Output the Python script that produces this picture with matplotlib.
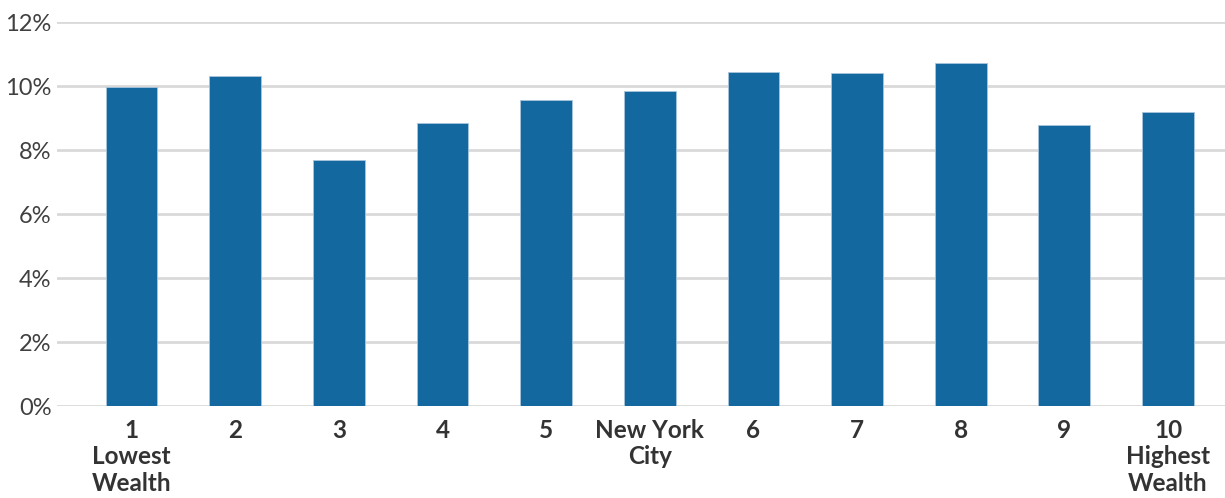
import matplotlib
matplotlib.use("Agg")
import matplotlib.pyplot as plt
from matplotlib.ticker import FuncFormatter

plt.rcParams['font.family'] = ['Lato', 'DejaVu Sans']

# data
categories = ['1\nLowest\nWealth', '2', '3', '4', '5', 'New York\nCity',
              '6', '7', '8', '9', '10\nHighest\nWealth']
values = [9.97, 10.30, 7.69, 8.84, 9.56, 9.84, 10.43, 10.41, 10.72, 8.78, 9.20]
yticks = [0, 2, 4, 6, 8, 10, 12]

BAR_COLOR = '#1468a0'
GRID_COLOR = '#d9d9d9'

fig = plt.figure(figsize=(12.25, 4.98), dpi=100)
ax = fig.add_axes([0.0465, 0.1847, 0.9535, 0.7711])

x = list(range(len(categories)))
ax.bar(x, values, width=0.5, color=BAR_COLOR, edgecolor='#a9c6dc',
       linewidth=0.6, zorder=3)

ax.set_ylim(0, 12)
ax.set_xlim(-0.72, 10.55)
ax.set_yticks(yticks)
ax.yaxis.set_major_formatter(FuncFormatter(lambda v, p: f'{v:.0f}%'))
ax.grid(axis='y', color=GRID_COLOR, linewidth=2, zorder=0)
ax.set_axisbelow(True)

ax.set_xticks(x)
ax.set_xticklabels(categories, fontweight='bold', fontsize=17.5,
                   color='#333333', linespacing=1.2, va='top')
ax.tick_params(axis='x', length=0, pad=9)
ax.tick_params(axis='y', length=0, pad=4, labelsize=17, labelcolor='#404040')

for s in ax.spines.values():
    s.set_visible(False)

fig.savefig('out.png', dpi=100)
